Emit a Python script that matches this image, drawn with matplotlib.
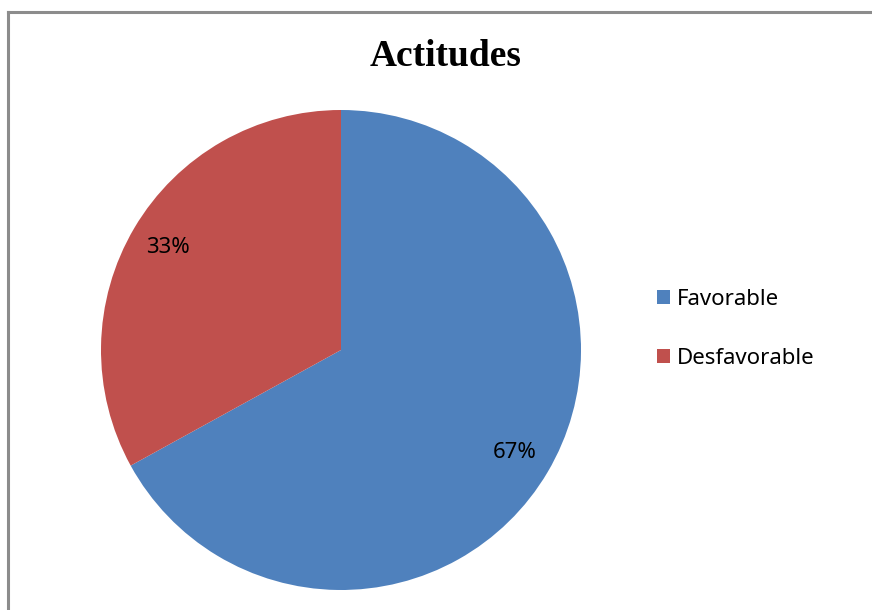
import matplotlib
matplotlib.use("Agg")
import matplotlib.pyplot as plt
from matplotlib.lines import Line2D

labels = ["Favorable", "Desfavorable"]
values = [67, 33]
colors = ["#4F81BD", "#C0504D"]
title = "Actitudes"

W, H = 872, 610
fig = plt.figure(figsize=(W / 100, H / 100), dpi=100)

# chart frame (only top and left edges visible in the crop)
fig.add_artist(Line2D([8 / W, 8 / W], [0, 1 - 12 / H], color="#8c8c8c", lw=2.2))
fig.add_artist(Line2D([8 / W, 1], [1 - 12 / H, 1 - 12 / H], color="#8c8c8c", lw=2.2))

cx, cy, r = 341, 350, 240
ax = fig.add_axes([(cx - r) / W, (H - cy - r) / H, 2 * r / W, 2 * r / H])
wedges, _, autotexts = ax.pie(
    values, colors=colors, startangle=90, counterclock=False,
    autopct="%1.0f%%", pctdistance=0.84, radius=1,
    textprops={"family": "Noto Sans", "fontsize": 16, "color": "black"},
)
ax.set_xlim(-1, 1)
ax.set_ylim(-1, 1)
ax.set_aspect("equal")
ax.axis("off")

fig.text(446 / W, 1 - 57 / H, title, ha="center", va="center",
         family="Liberation Serif", fontweight="bold", fontsize=27)

leg = fig.legend(wedges, labels, loc="center left",
                 bbox_to_anchor=(646 / W, 1 - 329 / H), frameon=False,
                 prop={"family": "Noto Sans", "size": 16},
                 handlelength=0.6, handleheight=0.6, handletextpad=0.3,
                 labelspacing=1.72, borderpad=0)

fig.savefig("out.png", dpi=100)
